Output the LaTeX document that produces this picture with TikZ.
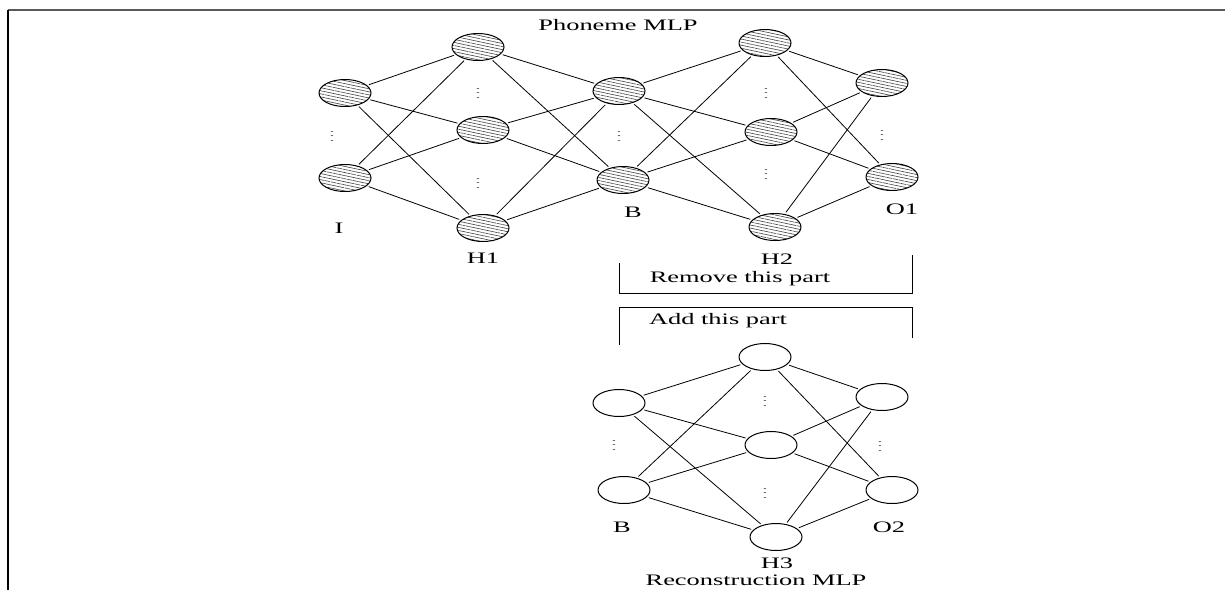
\documentclass[tikz,border=0pt]{standalone}
\usepackage{fontspec}
\setmainfont[FakeStretch=1.65]{Liberation Serif}
\usetikzlibrary{shapes.geometric,patterns.meta}
\newcommand{\myvdots}{\scalebox{1.3}[0.6]{$\vdots$}}
\begin{document}
\begin{tikzpicture}[x=0.5pt,y=-0.5pt,
  neuron/.style={ellipse,draw,line width=0.5pt,minimum width=26pt,minimum height=13.5pt,inner sep=0pt},
  hatched/.style={neuron,pattern={Lines[angle=-12,distance=1.5pt,line width=0.3pt]},pattern color=black!75},
  vdot/.style={inner sep=0pt,font=\tiny},
  lbl/.style={inner sep=0pt,font=\fontsize{8}{9}\selectfont},
  conn/.style={line width=0.4pt,shorten <=1pt,shorten >=1pt},
  bracket/.style={line width=0.5pt}]
\useasboundingbox (0,0) rectangle (1225,590);
% frame
\draw[line width=1pt,black!65] (8,10) -- (1225,10);
\draw[line width=0.8pt,black] (8,10) -- (8,590);

% Phoneme MLP
\node[lbl] (t1) at (618,25) {Phoneme MLP};
\node[hatched] (i1) at (345,93) {};
\node[hatched] (i2) at (345,178) {};
\node[hatched] (h1a) at (478,47) {};
\node[hatched] (h1b) at (483,130) {};
\node[hatched] (h1c) at (483,228) {};
\node[hatched] (ba) at (619,91) {};
\node[hatched] (bb) at (623,180) {};
\node[hatched] (h2a) at (765,43) {};
\node[hatched] (h2b) at (771,132) {};
\node[hatched] (h2c) at (775,227) {};
\node[hatched] (o1a) at (882,83) {};
\node[hatched] (o1b) at (892,177) {};

\node[vdot] (di) at (332,133) {\myvdots};
\node[vdot] (dh1a) at (478,90) {\myvdots};
\node[vdot] (dh1b) at (478,180) {\myvdots};
\node[vdot] (db) at (619,133) {\myvdots};
\node[vdot] (dh2a) at (766,90) {\myvdots};
\node[vdot] (dh2b) at (766,171) {\myvdots};
\node[vdot] (do1) at (882,132) {\myvdots};

\foreach \a in {i1,i2} \foreach \b in {h1a,h1b,h1c} \draw[conn] (\a) -- (\b);
\foreach \a in {h1a,h1b,h1c} \foreach \b in {ba,bb} \draw[conn] (\a) -- (\b);
\foreach \a in {ba,bb} \foreach \b in {h2a,h2b,h2c} \draw[conn] (\a) -- (\b);
\foreach \a in {h2a,h2b,h2c} \foreach \b in {o1a,o1b} \draw[conn] (\a) -- (\b);

\node[lbl] (li) at (339,228) {I};
\node[lbl] (lh1) at (483,258) {H1};
\node[lbl] (lb) at (633,212) {B};
\node[lbl] (lh2) at (777,259) {H2};
\node[lbl] (lo1) at (902,209) {O1};

% brackets
\coordinate (r1) at (619,263);
\coordinate (r2) at (619,293);
\coordinate (r3) at (912,293);
\coordinate (r4) at (912,255);
\draw[bracket] (r1) -- (r2) -- (r3) -- (r4);
\node[lbl] (rem) at (740,279) {Remove this part};
\coordinate (a1) at (619,345);
\coordinate (a2) at (619,307);
\coordinate (a3) at (912,307);
\coordinate (a4) at (912,338);
\draw[bracket] (a1) -- (a2) -- (a3) -- (a4);
\node[lbl] (add) at (718,321) {Add this part};

% Reconstruction MLP
\node[neuron] (rba) at (619,403) {};
\node[neuron] (rbb) at (624,490) {};
\node[neuron] (h3a) at (765,357) {};
\node[neuron] (h3b) at (771,445) {};
\node[neuron] (h3c) at (776,537) {};
\node[neuron] (o2a) at (882,397) {};
\node[neuron] (o2b) at (892,490) {};

\node[vdot] (drb) at (614,442) {\myvdots};
\node[vdot] (dh3a) at (765,398) {\myvdots};
\node[vdot] (dh3b) at (765,490) {\myvdots};
\node[vdot] (do2) at (880,443) {\myvdots};

\foreach \a in {rba,rbb} \foreach \b in {h3a,h3b,h3c} \draw[conn] (\a) -- (\b);
\foreach \a in {h3a,h3b,h3c} \foreach \b in {o2a,o2b} \draw[conn] (\a) -- (\b);

\node[lbl] (lrb) at (622,527) {B};
\node[lbl] (lo2) at (889,527) {O2};
\node[lbl] (lh3) at (777,563) {H3};
\node[lbl] (t2) at (756,580) {Reconstruction MLP};
\end{tikzpicture}
\end{document}
